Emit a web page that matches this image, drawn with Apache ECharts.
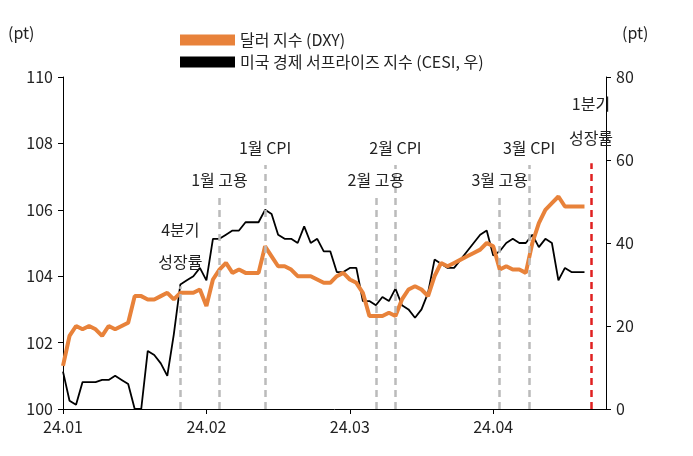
<!DOCTYPE html>
<html><head><meta charset="utf-8">
<script src="https://cdn.jsdelivr.net/npm/echarts@6/dist/echarts.min.js"></script>
<style>html,body{margin:0;padding:0;background:#fff}#c{width:693px;height:456px}</style>
</head><body><div id="c"></div>
<script>
const monthLabels = {0:'24.01',22:'24.02',44:'24.03',66:'24.04'};
const dxy = [101.3,102.2,102.5,102.4,102.5,102.4,102.2,102.5,102.4,102.5,102.6,103.4,103.4,103.3,103.3,103.4,103.5,103.3,103.5,103.5,103.5,103.6,103.1,103.9,104.2,104.4,104.1,104.2,104.1,104.1,104.1,104.9,104.6,104.3,104.3,104.2,104.0,104.0,104.0,103.9,103.8,103.8,104.0,104.1,103.9,103.8,103.5,102.8,102.8,102.8,102.9,102.8,103.3,103.6,103.7,103.6,103.4,104.0,104.4,104.3,104.4,104.5,104.6,104.7,104.8,105.0,104.9,104.2,104.3,104.2,104.2,104.1,105.0,105.6,106.0,106.2,106.4,106.1,106.1,106.1,106.1];
const cesi = [9,2,1,6.5,6.5,6.5,7,7,8,7,6,0,0,14,13,11,8,18,30,31,32,34,31,41,41,42,43,43,45,45,45,48,47,42,41,41,40,44,40,41,38,38,33,33,34,34,26,26,25,27,26,29,25,24,22,24,28,36,35,34,34,36,38,40,42,43,37,38,40,41,40,40,42,39,41,40,31,34,33,33,33];
const events = [
  {name:'4분기\n성장률', x:18, top:103.7, color:'#bbb', lh:32},
  {name:'1월 고용', x:24, top:106.4, color:'#bbb', lh:18},
  {name:'1월 CPI', x:31, top:107.35, color:'#bbb', lh:18},
  {name:'2월 고용', x:48, top:106.4, color:'#bbb', lh:18},
  {name:'2월 CPI', x:51, top:107.35, color:'#bbb', lh:18},
  {name:'3월 고용', x:67, top:106.4, color:'#bbb', lh:18},
  {name:'3월 CPI', x:71.5, top:107.35, color:'#bbb', lh:18},
  {name:'1분기\n성장률', x:81, top:107.4, color:'#e02020', lh:34}
];
const F = '"Noto Sans CJK KR", "Noto Sans", sans-serif';
const chart = echarts.init(document.getElementById('c'));
chart.setOption({
  animation:false,
  textStyle:{fontFamily:F},
  grid:{left:63,right:87,top:77,bottom:47},
  legend:{orient:'vertical',left:175,top:27,itemGap:6,itemWidth:55,itemHeight:11,
    textStyle:{fontFamily:F,fontSize:16,color:'#222'},
    data:[{name:'달러 지수 (DXY)',icon:'rect'},{name:'미국 경제 서프라이즈 지수 (CESI, 우)',icon:'rect'}]},
  graphic:[{type:'text',left:8,top:25,style:{text:'(pt)',font:'16px '+F,fill:'#222'}},
           {type:'text',left:622,top:25,style:{text:'(pt)',font:'16px '+F,fill:'#222'}}],
  xAxis:{type:'value',min:0,max:83.3,interval:22,
    axisLine:{lineStyle:{color:'#000'}},axisTick:{show:true,inside:false,length:5,lineStyle:{color:'#000'}},
    splitLine:{show:false},
    axisLabel:{showMaxLabel:false,fontFamily:F,fontSize:16,color:'#222',margin:10,formatter:v=>monthLabels[v]||''}},
  yAxis:[
    {type:'value',min:100,max:110,interval:2,
      axisLine:{show:true,lineStyle:{color:'#000'}},axisTick:{show:true,length:5,lineStyle:{color:'#000'}},
      splitLine:{show:false},axisLabel:{fontFamily:F,fontSize:16,color:'#222',margin:10}},
    {type:'value',min:0,max:80,interval:20,
      axisLine:{show:true,lineStyle:{color:'#000'}},axisTick:{show:true,length:5,lineStyle:{color:'#000'}},
      splitLine:{show:false},axisLabel:{fontFamily:F,fontSize:16,color:'#222',margin:10}}
  ],
  series:[
    {name:'달러 지수 (DXY)',type:'line',yAxisIndex:0,symbol:'none',z:3,
      data:dxy.map((v,i)=>[i,v]),lineStyle:{color:'#e8823a',width:4},itemStyle:{color:'#e8823a'},
      markLine:{silent:true,symbol:'none',data:events.map(e=>[
        {coord:[e.x,100],lineStyle:{color:e.color,type:[7,5],width:2.5}},
        {coord:[e.x,e.top],label:{show:true,position:'end',formatter:e.name,fontFamily:F,fontSize:16,color:'#222',lineHeight:e.lh,distance:8}}
      ])}},
    {name:'미국 경제 서프라이즈 지수 (CESI, 우)',type:'line',yAxisIndex:1,symbol:'none',z:2,
      data:cesi.map((v,i)=>[i,v]),lineStyle:{color:'#000',width:1.8},itemStyle:{color:'#000'}}
  ]
});
</script></body></html>
